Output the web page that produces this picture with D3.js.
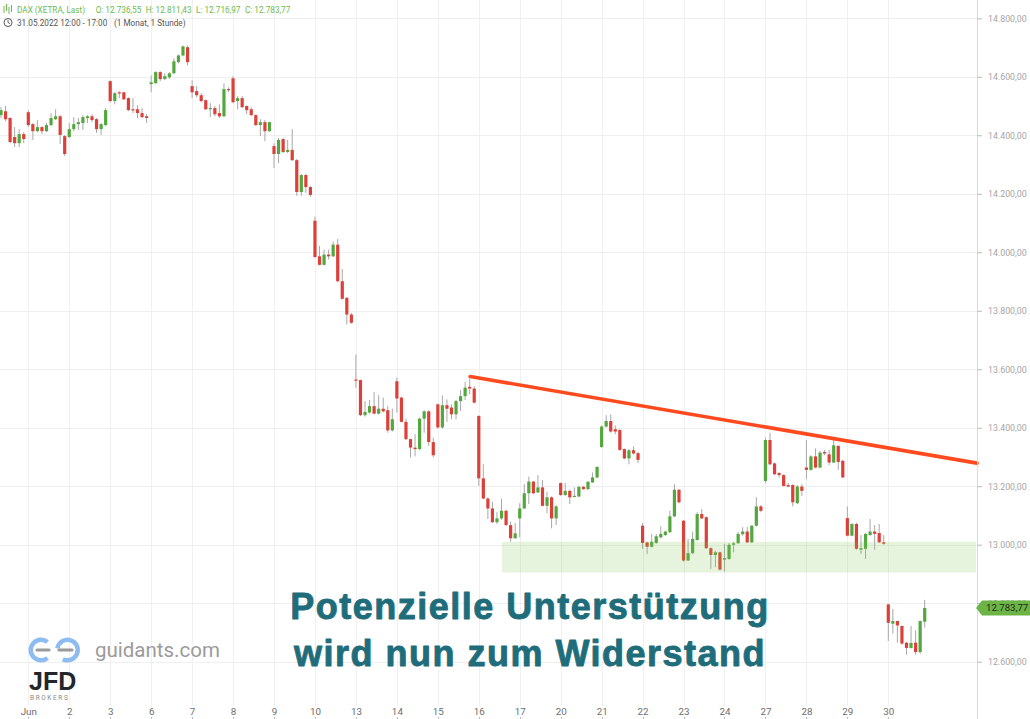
<!DOCTYPE html>
<html><head><meta charset="utf-8">
<script src="https://cdn.jsdelivr.net/npm/d3@7"></script>
<style>
html,body{margin:0;padding:0;background:#fff;}
svg{display:block;font-family:Roboto,"Liberation Sans",Arial,sans-serif;}
</style></head><body>
<svg id="c" width="1030" height="719"></svg>
<script>
// ---------- DATA ----------
const instrument = "DAX (XETRA, Last)";
const headerDate = "31.05.2022 12:00 - 17:00";
const headerPeriod = "(1 Monat, 1 Stunde)";
const days = ["Jun","2","3","6","7","8","9","10","13","14","15","16","17","20","21","22","23","24","27","28","29","30"];
const yTicks = [12600,12800,13000,13200,13400,13600,13800,14000,14200,14400,14600,14800];
const firstSlot = -6;           // first candle: 6 hourly slots before "Jun"
const slotsPerDay = 9;
// hourly candles [open, high, low, close]
const ohlc = [
// 31 May
[14469,14496,14459,14486],[14482,14500,14448,14455],[14459,14462,14373,14377],[14394,14428,14360,14373],[14373,14421,14360,14404],[14404,14411,14373,14387],
// Jun 1
[14479,14486,14428,14435],[14438,14442,14384,14414],[14414,14452,14411,14428],[14428,14431,14404,14414],[14414,14442,14411,14435],[14435,14476,14431,14459],[14455,14489,14452,14465],[14465,14469,14370,14401],[14397,14401,14329,14336],
// 2
[14394,14442,14391,14421],[14421,14462,14414,14438],[14438,14459,14418,14445],[14442,14469,14418,14462],[14459,14469,14442,14465],[14465,14472,14445,14452],[14455,14459,14408,14421],[14421,14442,14401,14438],[14435,14493,14431,14486],
// 3
[14585,14588,14513,14517],[14517,14547,14506,14544],[14547,14551,14527,14544],[14547,14549,14520,14523],[14527,14530,14482,14486],[14489,14527,14476,14486],[14489,14503,14459,14476],[14476,14493,14459,14462],[14465,14472,14442,14459],
// 6
[14575,14605,14547,14581],[14578,14619,14576,14616],[14616,14619,14585,14592],[14592,14612,14590,14602],[14598,14616,14592,14612],[14612,14663,14610,14653],[14650,14677,14646,14673],[14673,14707,14670,14704],[14701,14707,14639,14650],
// 7
[14568,14588,14527,14547],[14551,14568,14530,14537],[14537,14544,14513,14517],[14520,14523,14486,14489],[14489,14510,14462,14493],[14493,14500,14465,14472],[14476,14506,14459,14465],[14465,14578,14462,14558],[14558,14564,14547,14554],
// 8
[14595,14602,14510,14513],[14517,14534,14489,14527],[14527,14534,14493,14496],[14500,14503,14472,14486],[14489,14496,14465,14469],[14469,14472,14431,14435],[14435,14455,14397,14445],[14445,14452,14380,14414],[14414,14445,14411,14445],
// 9
[14363,14373,14288,14336],[14336,14391,14305,14384],[14387,14391,14339,14343],[14343,14384,14339,14350],[14350,14421,14312,14315],[14315,14319,14193,14206],[14206,14268,14193,14264],[14264,14268,14203,14223],[14223,14227,14189,14196],
// 10
[14108,14122,13980,13984],[13986,14022,13955,13957],[13957,14009,13955,13992],[13992,14009,13975,13986],[13986,14037,13984,14026],[14026,14045,13897,13901],[13901,13943,13838,13841],[13844,13847,13753,13787],[13787,13793,13755,13759],
// 13
[13565,13650,13537,13562],[13563,13565,13440,13443],[13443,13491,13438,13454],[13452,13495,13448,13474],[13474,13522,13446,13448],[13448,13511,13446,13465],[13465,13503,13452,13456],[13460,13474,13383,13391],[13391,13465,13387,13429],
// 14
[13559,13571,13452,13500],[13503,13506,13418,13420],[13420,13431,13358,13361],[13361,13363,13298,13332],[13332,13378,13302,13327],[13327,13435,13324,13431],[13431,13460,13383,13456],[13456,13460,13338,13351],[13351,13366,13298,13306],
// 15
[13480,13483,13397,13401],[13401,13511,13397,13477],[13477,13497,13420,13465],[13469,13480,13429,13446],[13446,13495,13429,13491],[13491,13529,13457,13508],[13508,13556,13495,13537],[13540,13568,13514,13534],[13534,13542,13483,13486],
// 16
[13440,13443,13201,13227],[13227,13275,13156,13158],[13158,13162,13088,13124],[13124,13147,13074,13077],[13077,13111,13071,13090],[13090,13158,13085,13116],[13116,13120,13065,13067],[13067,13079,13010,13022],[13022,13074,13020,13039],
// 17
[13090,13142,13025,13124],[13124,13207,13122,13176],[13176,13233,13139,13216],[13216,13218,13173,13176],[13179,13238,13176,13196],[13196,13221,13131,13133],[13133,13181,13108,13162],[13162,13165,13056,13090],[13090,13136,13067,13131],
// 20
[13211,13213,13167,13170],[13170,13211,13167,13184],[13184,13188,13139,13162],[13165,13196,13164,13167],[13165,13201,13162,13198],[13198,13201,13188,13190],[13190,13218,13188,13215],[13213,13247,13211,13230],[13230,13268,13227,13266],
// 21
[13334,13408,13332,13404],[13404,13443,13401,13423],[13423,13446,13383,13387],[13395,13408,13378,13387],[13392,13395,13321,13324],[13327,13329,13292,13295],[13295,13327,13275,13323],[13323,13336,13309,13312],[13313,13317,13279,13290],
// 22
[13065,13074,12986,13006],[13008,13010,12968,12993],[12993,13037,12991,13010],[13006,13037,13003,13029],[13025,13063,13022,13037],[13033,13048,13031,13045],[13043,13116,13040,13097],[13097,13207,13094,13188],[13188,13190,13142,13145],
// 23
[13082,13085,12942,12946],[12946,13020,12944,12971],[12971,13045,12968,13020],[13016,13111,13014,13105],[13105,13122,13088,13090],[13094,13097,12986,12988],[12988,12991,12917,12965],[12965,12980,12923,12974],[12974,12976,12912,12915],
// 24
[12949,13003,12908,12954],[12951,13006,12949,13000],[13000,13010,12974,13005],[13005,13043,13003,13037],[13036,13060,13031,13045],[13045,13060,13006,13008],[13008,13067,13006,13065],[13065,13162,13062,13131],[13131,13136,13111,13116],
// 27
[13218,13366,13211,13358],[13358,13383,13272,13275],[13278,13281,13238,13241],[13245,13249,13230,13238],[13238,13241,13199,13201],[13204,13211,13196,13199],[13204,13207,13131,13145],[13142,13204,13139,13199],[13199,13207,13167,13184],
// 28
[13264,13358,13224,13256],[13256,13306,13253,13302],[13302,13329,13261,13264],[13264,13321,13261,13315],[13317,13324,13306,13312],[13309,13324,13272,13281],[13281,13358,13279,13340],[13338,13340,13256,13283],[13287,13290,13228,13230],
// 29
[13091,13131,13029,13031],[13031,13073,13029,13071],[13071,13074,12983,12986],[12983,13033,12968,12988],[12986,13040,12951,13037],[13033,13088,13031,13045],[13045,13067,12983,13037],[13040,13071,13006,13008],[13008,13033,13000,13003],
// 30
[12796,12798,12671,12733],[12730,12781,12696,12739],[12739,12741,12665,12724],[12722,12724,12658,12662],[12665,12667,12624,12647],[12647,12722,12645,12664],[12665,12707,12624,12633],[12633,12741,12627,12739],[12736.55,12811.43,12716.97,12783.77]
];
// resistance trend line: [slot, price]
const trend = [[97.1,13575],[208.5,13279]];
// support zone
const zoneFromSlot = 104.1;
const zoneLow = 12905, zoneHigh = 13010;
const headline = ["Potenzielle Unterstützung","wird nun zum Widerstand"];
const brand = "guidants.com";

// ---------- CHART ----------
const svg = d3.select("#c");
const axisX = 977;
const x = d3.scaleLinear().domain([0, 189]).range([28.3, 888.3]);
const y = d3.scaleLinear().domain([12600, 14800]).range([661.7, 18.3]);
const de = d3.formatLocale({decimal:",", thousands:".", grouping:[3], currency:["",""]});
const fmt = de.format(",.2f");
const dayTicks = days.map((d,i)=>i*slotsPerDay);
const UP="#52a83e", DOWN="#dd4039";

svg.append("defs").append("clipPath").attr("id","plot")
  .append("rect").attr("x",0).attr("y",0).attr("width",axisX).attr("height",706);

// grid
const grid = svg.append("g");
grid.selectAll(".h").data(yTicks).join("line")
  .attr("x1",0).attr("x2",axisX)
  .attr("y1",d=>Math.round(y(d))+0.5).attr("y2",d=>Math.round(y(d))+0.5)
  .attr("stroke","#efefef");
grid.selectAll(".v").data(dayTicks).join("line")
  .attr("x1",d=>Math.round(x(d))+0.5).attr("x2",d=>Math.round(x(d))+0.5)
  .attr("y1",0).attr("y2",706).attr("stroke","#f0f0f0");

// candles
const candles = ohlc.map((c,i)=>({s:i+firstSlot,o:c[0],h:c[1],l:c[2],c:c[3]}));
const cg = svg.append("g").attr("clip-path","url(#plot)");
cg.selectAll(".w").data(candles).join("line")
  .attr("x1",d=>x(d.s)).attr("x2",d=>x(d.s))
  .attr("y1",d=>y(d.h)).attr("y2",d=>y(d.l))
  .attr("stroke","#a8a8a8").attr("stroke-width",1);
cg.selectAll(".b").data(candles).join("rect")
  .attr("x",d=>x(d.s)-1.6).attr("width",3.2)
  .attr("y",d=>y(Math.max(d.o,d.c)))
  .attr("height",d=>Math.max(1.2, Math.abs(y(d.o)-y(d.c))))
  .attr("fill",d=>d.c>=d.o?UP:DOWN);

// support zone
svg.append("rect")
  .attr("x",x(zoneFromSlot)).attr("width",axisX-1-x(zoneFromSlot))
  .attr("y",y(zoneHigh)).attr("height",y(zoneLow)-y(zoneHigh))
  .attr("fill","rgba(125,195,75,0.19)");

// trend line
svg.append("line")
  .attr("x1",x(trend[0][0])).attr("y1",y(trend[0][1]))
  .attr("x2",x(trend[1][0])).attr("y2",y(trend[1][1]))
  .attr("stroke","#ff4a1f").attr("stroke-width",3.6).attr("stroke-linecap","round");

// right axis
svg.append("line").attr("x1",axisX+0.5).attr("x2",axisX+0.5).attr("y1",0).attr("y2",719).attr("stroke","#dcdcdc");
const ya = svg.append("g").attr("transform",`translate(${axisX},0)`)
  .call(d3.axisRight(y).tickValues(yTicks).tickSize(5).tickPadding(6).tickFormat(fmt));
ya.select(".domain").remove();
ya.selectAll("line").attr("stroke","#bbbbbb");
ya.selectAll("text").attr("fill","#a6a6a6").style("font-size","8.8px").style("font-family","Roboto,Arial,sans-serif");

// bottom axis
const xa = svg.append("g").attr("transform","translate(0,704)")
  .call(d3.axisBottom(x).tickValues(dayTicks).tickSize(0).tickPadding(4).tickFormat((d,i)=>days[i]));
xa.select(".domain").remove();
xa.selectAll("text").attr("fill","#6e6e6e").style("font-size","9.8px").style("font-family","Roboto,Arial,sans-serif");
svg.append("g").selectAll("line").data(dayTicks).join("line")
  .attr("x1",d=>Math.round(x(d))+0.5).attr("x2",d=>Math.round(x(d))+0.5)
  .attr("y1",717).attr("y2",719).attr("stroke","#bbb");

// last price label (drawn over the axis, as in the source)
const last = candles[candles.length-1];
const ly = y(last.c);
svg.append("path")
  .attr("d",`M${axisX-1},${ly} L${axisX+5},${ly-7.5} L1030,${ly-7.5} L1030,${ly+7.5} L${axisX+5},${ly+7.5} Z`)
  .attr("fill","#6cb446");
svg.append("text").attr("x",986).attr("y",ly+3.3).text(fmt(last.c))
  .attr("fill","#1c2a14").style("font-size","9.6px");

// header
const hd = svg.append("g").style("font-size","8.2px");
const ic = hd.append("g").attr("stroke","#6dbb4c").attr("stroke-width",1);
[[4,6,13],[6.5,4,11],[9,7,14],[11.5,5,12]].forEach(p=>ic.append("line").attr("x1",p[0]).attr("x2",p[0]).attr("y1",p[1]).attr("y2",p[2]));
const hItems = [[17,instrument],[95.7,"O: "+fmt(last.o)],[145.7,"H: "+fmt(last.h)],[196,"L: "+fmt(last.l)],[245,"C: "+fmt(last.c)]];
hd.selectAll(".t").data(hItems).join("text").attr("x",d=>d[0]).attr("y",13).text(d=>d[1]).attr("fill","#6dbb4c");
hd.append("circle").attr("cx",8).attr("cy",22.5).attr("r",4).attr("fill","none").attr("stroke","#555").attr("stroke-width",1);
hd.append("path").attr("d","M8,20 L8,22.5 L10,23.5").attr("fill","none").attr("stroke","#555").attr("stroke-width",0.9);
hd.append("text").attr("x",17).attr("y",25.5).text(headerDate).attr("fill","#555");
hd.append("text").attr("x",114).attr("y",25.5).text(headerPeriod).attr("fill","#555");

// headline overlay
svg.append("g").selectAll("text").data(headline).join("text")
  .attr("x",530).attr("y",(d,i)=>619+i*47)
  .attr("text-anchor","middle").text(d=>d)
  .attr("fill","#1f6d7b").attr("stroke","#1f6d7b").attr("stroke-width",0.9).attr("stroke-linejoin","round")
  .style("font-family","'Liberation Sans',Arial,sans-serif")
  .style("font-weight","700").style("font-size","36px").style("letter-spacing","1.5px");

// guidants logo
const lg = svg.append("g");
lg.append("path").attr("d",d3.arc()({innerRadius:8,outerRadius:12.5,startAngle:Math.PI*0.78,endAngle:Math.PI*2.22}))
  .attr("transform","translate(41,650)").attr("fill","#8dbcf3");
lg.append("path").attr("d",d3.arc()({innerRadius:8,outerRadius:12.5,startAngle:-Math.PI*0.45,endAngle:Math.PI*1.15}))
  .attr("transform","translate(67.5,650)").attr("fill","#8dbcf3");
lg.append("line").attr("x1",37).attr("x2",49).attr("y1",650).attr("y2",650).attr("stroke","#9a9a9a").attr("stroke-width",3.2).attr("stroke-linecap","round");
lg.append("line").attr("x1",59).attr("x2",72).attr("y1",650).attr("y2",650).attr("stroke","#9a9a9a").attr("stroke-width",3.2).attr("stroke-linecap","round");
lg.append("text").attr("x",95).attr("y",657).text(brand).attr("fill","#9b9b9b").style("font-size","20.5px");
lg.append("text").attr("x",29).attr("y",689.5).text("JFD").attr("fill","#23262b")
  .style("font-size","25px").style("font-weight","900").style("font-family","'Liberation Sans',Arial,sans-serif");
lg.append("text").attr("x",30).attr("y",700).text("BROKERS").attr("fill","#8a8a8a")
  .style("font-size","6.5px").style("letter-spacing","1.6px");
</script>
</body></html>
